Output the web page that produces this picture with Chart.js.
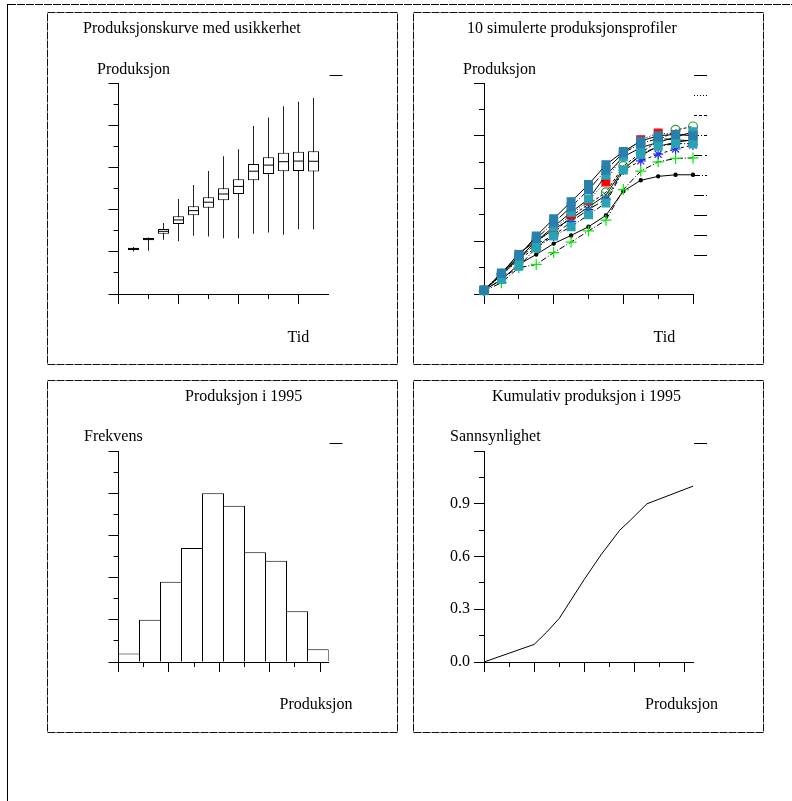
<!DOCTYPE html>
<html><head><meta charset="utf-8">
<script src="https://cdn.jsdelivr.net/npm/chart.js@4.4.1/dist/chart.umd.min.js"></script>
<style>
html,body{margin:0;padding:0;background:#fff;}
body{width:792px;height:801px;position:relative;overflow:hidden;font-family:"Liberation Serif","Times New Roman",serif;}
canvas{position:absolute;}
.t{position:absolute;font-size:16px;line-height:16px;white-space:nowrap;color:#000;}
svg{position:absolute;left:0;top:0;}
</style></head><body>
<svg width="792" height="801">
  <line x1="8" y1="4.5" x2="792" y2="4.5" stroke="#000" stroke-dasharray="8 1"/>
  <line x1="7.5" y1="4" x2="7.5" y2="801" stroke="#000"/>
  <rect x="47.5" y="12.5" width="350" height="352" fill="none" stroke="#111" stroke-dasharray="8 1"/>
  <rect x="413.5" y="12.5" width="350" height="352" fill="none" stroke="#111" stroke-dasharray="8 1"/>
  <rect x="47.5" y="380.5" width="350" height="352" fill="none" stroke="#111" stroke-dasharray="8 1"/>
  <rect x="413.5" y="380.5" width="350" height="352" fill="none" stroke="#111" stroke-dasharray="8 1"/>
</svg>
<canvas id="c1" width="349" height="351" style="left:48px;top:13px"></canvas>
<canvas id="c2" width="349" height="351" style="left:414px;top:13px"></canvas>
<canvas id="c3" width="349" height="351" style="left:48px;top:381px"></canvas>
<canvas id="c4" width="349" height="351" style="left:414px;top:381px"></canvas>

<div class="t" style="left:83px;top:19.6px">Produksjonskurve med usikkerhet</div>
<div class="t" style="left:97px;top:60.6px">Produksjon</div>
<div class="t" style="left:287.5px;top:328.6px">Tid</div>

<div class="t" style="left:467px;top:19.6px">10 simulerte produksjonsprofiler</div>
<div class="t" style="left:463px;top:60.6px">Produksjon</div>
<div class="t" style="left:653.5px;top:328.6px">Tid</div>

<div class="t" style="left:185px;top:387.6px">Produksjon i 1995</div>
<div class="t" style="left:84px;top:427.6px">Frekvens</div>
<div class="t" style="left:279.5px;top:695.6px">Produksjon</div>

<div class="t" style="left:492px;top:387.6px">Kumulativ produksjon i 1995</div>
<div class="t" style="left:450px;top:427.6px">Sannsynlighet</div>
<div class="t" style="left:645px;top:695.6px">Produksjon</div>

<script>
// ---------- Panel 1: box plots (production curve with uncertainty) ----------
const boxTime = [1,2,3,4,5,6,7,8,9,10,11,12,13];
const boxMin  = [2.01,2.05,2.57,2.50,2.76,2.72,2.64,2.64,2.86,2.92,2.81,3.07,3.07];
const boxQ1   = [2.09,2.55,2.86,3.32,3.73,4.09,4.44,4.74,5.39,5.69,5.82,5.83,5.80];
const boxMed  = [2.15,2.59,2.97,3.51,3.95,4.35,4.74,5.10,5.82,6.11,6.27,6.30,6.29];
const boxQ3   = [2.19,2.65,3.08,3.68,4.16,4.58,5.01,5.44,6.16,6.48,6.70,6.74,6.76];
const boxMax  = [2.23,2.68,3.36,4.50,5.17,5.83,6.53,6.86,7.96,8.37,8.90,9.11,9.29];
const p1XMinor = [0,2,4,6,8,10,12];
const p1XMajor = [0,4,8,12];
const p1YMinor = [0,1,2,3,4,5,6,7,8,9,10];
const p1YMajor = [0,2,4,6,8,10];

// ---------- Panel 2: 10 simulated production profiles ----------
const profTime = [0,1,2,3,4,5,6,7,8,9,10,11,12];
const prof1  = [0.14,0.78,1.45,2.20,2.85,3.50,4.15,4.90,5.40,5.80,6.00,6.05,6.00];
const prof2  = [0.14,0.70,1.30,1.95,2.48,3.00,3.55,4.25,5.30,5.85,6.10,6.05,6.05];
const prof3  = [0.14,0.72,1.32,1.75,2.30,2.95,3.40,3.85,4.85,5.35,5.80,6.22,6.35];
const prof4  = [0.12,0.55,1.05,1.75,2.20,2.55,3.00,3.45,4.70,5.30,5.60,5.70,5.70];
const prof5  = [0.14,0.78,1.35,1.90,2.20,2.75,3.20,3.60,4.70,5.05,5.30,5.50,5.65];
const prof6  = [0.11,0.43,1.00,1.12,1.57,1.97,2.39,2.80,3.96,4.66,5.01,5.14,5.16];
const prof7  = [0.14,0.80,1.50,2.10,2.70,3.30,3.95,4.70,5.35,5.70,5.90,5.85,5.80];
const prof8  = [0.14,0.55,1.12,1.50,1.91,2.22,2.55,2.98,3.90,4.31,4.46,4.52,4.52];
const prof9  = [0.14,0.72,1.38,2.00,2.55,3.10,3.60,4.50,5.20,5.55,5.75,5.95,6.15];
const prof10 = [0.14,0.75,1.55,2.00,2.45,2.85,3.30,3.75,4.75,5.25,5.60,5.75,5.85];
const p2XMinor = [0,2,4,6,8,10,12];
const p2XMajor = [0,4,8,12];
const p2YMinor = [0,1,2,3,4,5,6,7,8];
const p2YMajor = [0,2,4,6,8];

// ---------- Panel 3: histogram of production in 1995 ----------
const binCenters = [0.5,1.5,2.5,3.5,4.5,5.5,6.5,7.5,8.5,9.5];
const binCounts  = [2,10,19,27,40,37,26,24,12,3];
const p3XMinor = [0,1.2,2.4,3.6,4.8,6.0,7.2,8.4,9.6];
const p3XMajor = [0,2.4,4.8,7.2,9.6];
const p3YMinor = [0,5,10,15,20,25,30,35,40,45,50];
const p3YMajor = [0,10,20,30,40,50];

// ---------- Panel 4: cumulative production in 1995 ----------
const cdfX = [0,2.4,3.0,3.6,4.8,5.6,6.5,7.0,7.8,10];
const cdfY = [0,0.10,0.17,0.248,0.47,0.61,0.75,0.806,0.90,1.0];
const p4XMinor = [0,1.2,2.4,3.6,4.8,6.0,7.2,8.4,9.6];
const p4XMajor = [0,2.4,4.8,7.2,9.6];
const p4YMinor = [0,0.15,0.3,0.45,0.6,0.75,0.9,1.05,1.2];
const p4YMajor = [0,0.3,0.6,0.9,1.2];
const p4YLabels = ['0.0','0.3','0.6','0.9',''];

Chart.defaults.font.family = '"Liberation Serif","Times New Roman",serif';
Chart.defaults.font.size = 16;
Chart.defaults.color = '#000';
Chart.defaults.animation = false;

function tickList(values) { return s => { s.ticks = values.map(v => ({ value: v })); }; }
function axisPair(axis, min, max, minor, major, outerTicks, outerFit) {
  const pos = axis === 'x' ? 'bottom' : 'left';
  const base = () => ({
    type: 'linear', axis: axis, position: pos, min: min, max: max, offset: false,
    grid: { display: true, drawOnChartArea: false, drawTicks: true, tickLength: 5,
            color: '#000', tickColor: '#000', lineWidth: 1, offset: false },
    ticks: { display: false, autoSkip: false }
  });
  const inner = base();
  inner.weight = 0;
  inner.border = { display: true, color: '#000', width: 1 };
  inner.afterBuildTicks = tickList(minor);
  const outer = base();
  outer.weight = 1;
  outer.border = { display: false };
  outer.afterBuildTicks = tickList(major);
  if (outerTicks) outer.ticks = outerTicks;
  if (outerFit) outer.afterFit = outerFit;
  const r = {};
  r[axis] = inner; r[axis + 'Major'] = outer;
  return r;
}
function legendOpts(dashes) {
  return {
    display: true, position: 'right', align: 'start', maxWidth: 16,
    labels: {
      usePointStyle: true, pointStyleWidth: 13, boxHeight: 9.19, padding: 1, font: { size: 19 },
      generateLabels: () => dashes.map((d, i) => ({
        text: '', fillStyle: 'rgba(0,0,0,0)', strokeStyle: '#000', lineWidth: 1,
        lineDash: d, pointStyle: 'line', hidden: false, datasetIndex: i
      }))
    }
  };
}
function commonOpts(padL, padR, scales, dashes) {
  return {
    responsive: false, maintainAspectRatio: false, devicePixelRatio: 1, events: [],
    layout: { padding: { top: 52, bottom: 60, left: padL, right: padR } },
    plugins: {
      title: { display: true, text: '', padding: 0, font: { size: 18, lineHeight: 1 } },
      legend: legendOpts(dashes),
      tooltip: { enabled: false }
    },
    scales: scales
  };
}

// Panel 1
new Chart(document.getElementById('c1'), {
  type: 'bar',
  data: { datasets: [
    { type: 'line', label: 'Median', data: boxTime.map((t, i) => ({ x: t, y: boxMed[i] })),
      showLine: false, pointStyle: 'line', pointRadius: 5.5, pointBorderColor: '#000',
      pointBorderWidth: 1, order: 0, clip: false },
    { label: 'Kvartiler', data: boxTime.map((t, i) => ({ x: t, y: [boxQ1[i], boxQ3[i]] })),
      backgroundColor: '#fff', borderColor: '#000', borderWidth: 1, borderSkipped: false,
      barThickness: 11, inflateAmount: 0, grouped: false, order: 1 },
    { label: 'Spenn', data: boxTime.map((t, i) => ({ x: t, y: [boxMin[i], boxMax[i]] })),
      backgroundColor: '#222', borderWidth: 0, barThickness: 1, inflateAmount: 0,
      grouped: false, order: 2 }
  ]},
  options: commonOpts(60.5, 52.5, Object.assign(
    axisPair('x', 0, 14, p1XMinor, p1XMajor),
    axisPair('y', 0, 10, p1YMinor, p1YMajor)), [[]])
});

// Panel 2
const teal = '#2a80ad', teal2 = '#2aa2b6';
function prof(data, dash, style, color, radius, fill, order) {
  return {
    data: profTime.map((t, i) => ({ x: t, y: data[i] })),
    borderColor: '#000', borderWidth: 1, borderDash: dash, tension: 0,
    pointStyle: style, pointRadius: radius, pointBorderColor: color,
    pointBackgroundColor: fill, pointBorderWidth: 1.2, clip: false, order: order
  };
}
new Chart(document.getElementById('c2'), {
  type: 'line',
  data: { datasets: [
    prof(prof1,  [],          'rect',     teal,     5.5, teal,  0),
    prof(prof2,  [1,2],       'rect',     '#ff0000',5.5, '#ff0000', 1),
    prof(prof3,  [3,2],       'circle',   '#2ca02c',4.5, 'rgba(0,0,0,0)', 1),
    prof(prof4,  [5,2,1,2],   'rect',     teal2,    5.5, teal2, 0),
    prof(prof5,  [8,3,3,3],   'star',     '#2b2bff',5,   '#2b2bff', 1),
    prof(prof6,  [6,2,1,2],   'cross',    '#00ee00',5.5, '#00ee00', 2),
    prof(prof7,  [10,2,1,2],  'rect',     teal,     5.5, teal,  0),
    prof(prof8,  [],          'circle',   '#000',   1.6, '#000', 2),
    prof(prof9,  [],          'rect',     teal2,    5.5, teal2, 0),
    prof(prof10, [],          'crossRot', '#2ca05a',5,   '#2ca05a', 1)
  ]},
  options: (() => {
    const o = commonOpts(60, 54, Object.assign(
      axisPair('x', 0, 12, p2XMinor, p2XMajor),
      axisPair('y', 0, 8, p2YMinor, p2YMajor)), []);
    o.plugins.legend.labels.generateLabels = (chart) => chart.data.datasets.map((ds, i) => ({
      text: '', fillStyle: 'rgba(0,0,0,0)', strokeStyle: '#000', lineWidth: 1,
      lineDash: ds.borderDash || [], pointStyle: 'line', hidden: false, datasetIndex: i
    }));
    return o;
  })()
});

// Panel 3
new Chart(document.getElementById('c3'), {
  type: 'bar',
  data: { datasets: [
    { label: 'Frekvens', data: binCenters.map((c, i) => ({ x: c, y: binCounts[i] })),
      backgroundColor: '#fff', borderColor: '#000', borderWidth: 1, barThickness: 22,
      inflateAmount: 0, grouped: false }
  ]},
  options: commonOpts(60.5, 52.5, Object.assign(
    axisPair('x', 0, 10, p3XMinor, p3XMajor),
    axisPair('y', 0, 50, p3YMinor, p3YMajor)), [[]])
});

// Panel 4
new Chart(document.getElementById('c4'), {
  type: 'line',
  data: { datasets: [
    { label: 'Sannsynlighet', data: cdfX.map((x, i) => ({ x: x, y: cdfY[i] })),
      borderColor: '#000', borderWidth: 1, pointRadius: 0, tension: 0, clip: false }
  ]},
  options: commonOpts(35, 54, Object.assign(
    axisPair('x', 0, 10, p4XMinor, p4XMajor),
    axisPair('y', 0, 1.2, p4YMinor, p4YMajor,
      { display: true, autoSkip: false, padding: 4, color: '#000',
        font: { size: 16 }, callback: (v, i) => p4YLabels[i] },
      s => { s.width = 30; })), [[]])
});
</script>
</body></html>
